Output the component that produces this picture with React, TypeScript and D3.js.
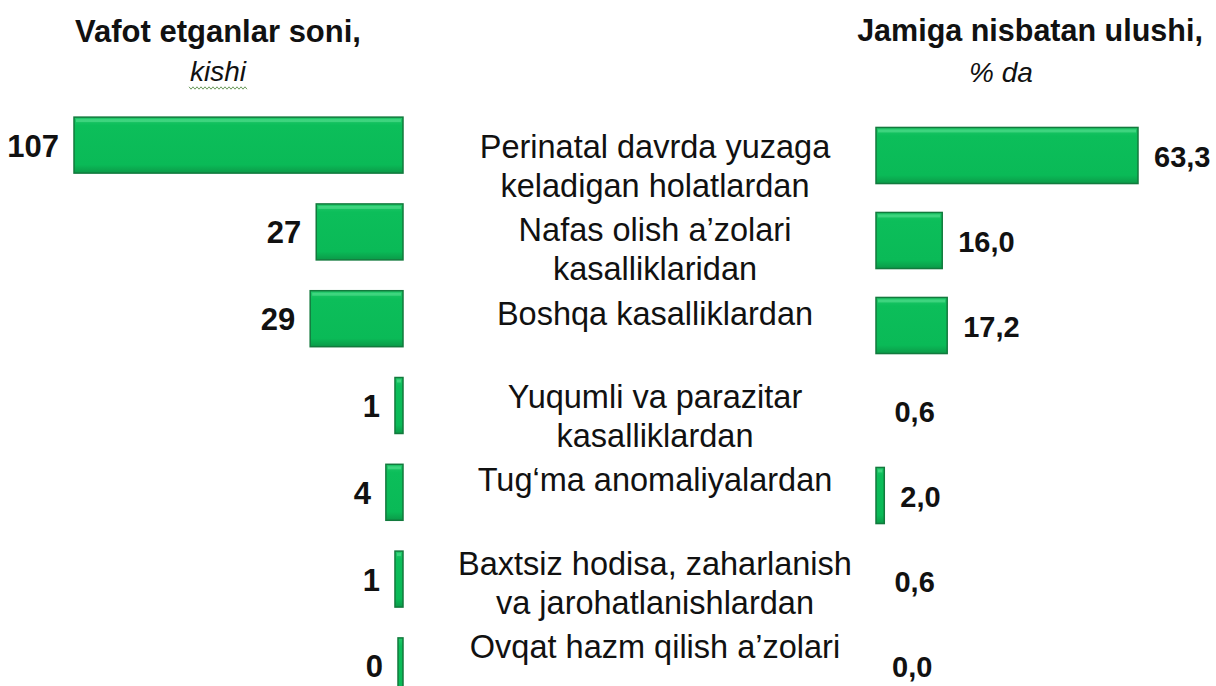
import React from "react";
import * as d3 from "d3";

const categories: string[] = [
  "Perinatal davrda yuzaga\nkeladigan holatlardan",
  "Nafas olish a’zolari\nkasalliklaridan",
  "Boshqa kasalliklardan",
  "Yuqumli va parazitar\nkasalliklardan",
  "Tug‘ma anomaliyalardan",
  "Baxtsiz hodisa, zaharlanish\nva jarohatlanishlardan",
  "Ovqat hazm qilish a’zolari",
];
const deaths: number[] = [107, 27, 29, 1, 4, 1, 0];
const shares: number[] = [63.3, 16.0, 17.2, 0.6, 2.0, 0.6, 0.0];

const leftTitle = "Vafot etganlar soni,";
const leftUnit = "kishi";
const rightTitle = "Jamiga nisbatan ulushi,";
const rightUnit = "% da";

const W = 1216;
const H = 686;
const FONT = "'Liberation Sans', Arial, Helvetica, sans-serif";

export default function App() {
  const idx = categories.map((_, i) => i);

  const yLeft = d3.scaleBand<number>().domain(idx).range([101.5, 709.5]).paddingInner(0.355).paddingOuter(0.18);
  const yRight = d3.scaleBand<number>().domain(idx).range([113, 708]).paddingInner(0.34).paddingOuter(0.17);
  const yLabel = d3.scalePoint<number>().domain(idx).range([158, 658]);

  const xLeft = d3.scaleLinear().domain([0, d3.max(deaths)!]).range([5, 329]);
  const xRight = d3.scaleLinear().domain([0, d3.max(shares)!]).range([0, 262]);
  const leftEdge = 403;
  const rightEdge = 876;

  const fmt = d3.format(".1f");
  const fmtShare = (v: number) => fmt(v).replace(".", ",");

  // wavy spell-check underline under "kishi"
  const wave: [number, number][] = d3.range(189, 249, 2).map((x, i) => [x, 88 + (i % 2 === 0 ? -1.2 : 1.2)]);
  const waveLine = d3.line()(wave) || "";

  const bar = (x: number, y: number, w: number, h: number, key: string) => (
    <g key={key}>
      <rect x={x} y={y} width={w} height={h} fill="url(#barGrad)" stroke="#127a3d" strokeWidth={1.5} />
      {w > 6 && (
        <rect x={x + 2} y={y + 2} width={Math.max(0, w - 4)} height={3} fill="#4fdc8a" opacity={0.7} />
      )}
    </g>
  );

  return (
    <svg
      width={W}
      height={H}
      viewBox={`0 0 ${W} ${H}`}
      style={{ position: "absolute", left: 0, top: 0, background: "#ffffff" }}
      fontFamily={FONT}
    >
      <defs>
        <linearGradient id="barGrad" x1="0" y1="0" x2="0" y2="1">
          <stop offset="0" stopColor="#22c96a" />
          <stop offset="0.15" stopColor="#0cbe5a" />
          <stop offset="0.85" stopColor="#0aba57" />
          <stop offset="1" stopColor="#0b9a48" />
        </linearGradient>
      </defs>
      <rect x={0} y={0} width={W} height={H} fill="#ffffff" />

      {/* Titles */}
      <text x={218} y={42} textAnchor="middle" fontSize={31} fontWeight="bold" fill="#111">
        {leftTitle}
      </text>
      <text x={218} y={81} textAnchor="middle" fontSize={28} fontStyle="italic" fill="#111">
        {leftUnit}
      </text>
      <path d={waveLine} fill="none" stroke="#6c9a5c" strokeWidth={1} />
      <text x={1030} y={41} textAnchor="middle" fontSize={30.5} fontWeight="bold" fill="#111">
        {rightTitle}
      </text>
      <text x={1001} y={82} textAnchor="middle" fontSize={28} fontStyle="italic" fill="#111">
        {rightUnit}
      </text>

      {/* Left bars */}
      {deaths.map((v, i) => {
        const w = xLeft(v);
        const y = yLeft(i)!;
        const h = yLeft.bandwidth();
        return (
          <g key={"l" + i}>
            {bar(leftEdge - w, y, w, h, "lb" + i)}
            <text
              x={leftEdge - w - 15}
              y={y + h / 2 + 1}
              textAnchor="end"
              dominantBaseline="central"
              fontSize={31}
              fontWeight="bold"
              fill="#111"
            >
              {String(v)}
            </text>
          </g>
        );
      })}

      {/* Right bars (bars thinner than 3px are not visible in the original) */}
      {shares.map((v, i) => {
        const w = xRight(v);
        const y = yRight(i)!;
        const h = yRight.bandwidth();
        return (
          <g key={"r" + i}>
            {w >= 3 && bar(rightEdge, y, w, h, "rb" + i)}
            <text
              x={rightEdge + w + 16}
              y={y + h / 2 + 1}
              textAnchor="start"
              dominantBaseline="central"
              fontSize={29}
              fontWeight="bold"
              fill="#111"
            >
              {fmtShare(v)}
            </text>
          </g>
        );
      })}

      {/* Category labels */}
      {categories.map((c, i) => (
        <text key={"c" + i} x={655} y={yLabel(i)!} textAnchor="middle" fontSize={32.5} fill="#111">
          {c.split("\n").map((line, j) => (
            <tspan key={j} x={655} dy={j === 0 ? 0 : 39}>
              {line}
            </tspan>
          ))}
        </text>
      ))}
    </svg>
  );
}
